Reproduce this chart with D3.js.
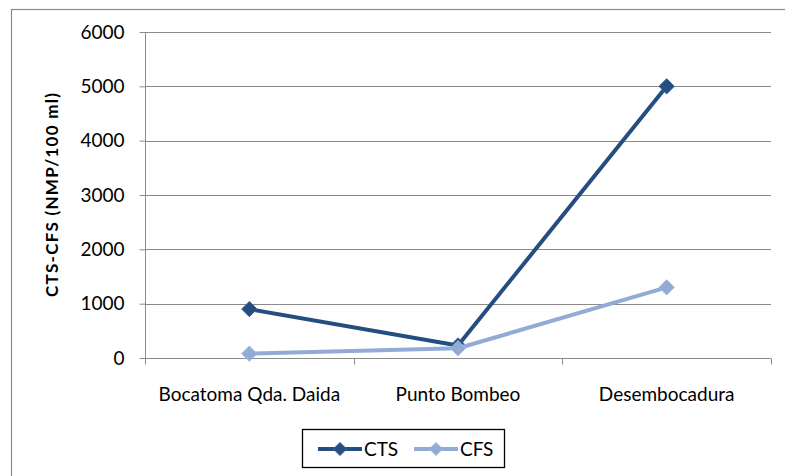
<!DOCTYPE html>
<html>
<head>
<meta charset="utf-8">
<script src="https://cdn.jsdelivr.net/npm/d3@7"></script>
<style>
  body { margin: 0; background: #fff; }
  svg { display: block; font-family: Lato, "Open Sans", sans-serif; }
</style>
</head>
<body>
<svg id="chart" width="785" height="476"></svg>
<script>
// data
const sites = ["Bocatoma Qda. Daida", "Punto Bombeo", "Desembocadura"];
const ctsValues = [900, 230, 5000];
const cfsValues = [80, 180, 1300];
const yTicks = [0, 1000, 2000, 3000, 4000, 5000, 6000];

const series = [
    {name: "CTS", values: ctsValues, color: "#254E80", edge: "#3A6296"},
    {name: "CFS", values: cfsValues, color: "#92ABD5", edge: "#A4BADE"}
];

const svg = d3.select("#chart");
const grid = "#8A8A8A";
const fs = 19;

// outer chart frame
svg.append("rect")
   .attr("x", 11.5).attr("y", 9.5)
   .attr("width", 800).attr("height", 500)
   .attr("fill", "none").attr("stroke", grid).attr("stroke-width", 1.2);

const plotL = 145, plotR = 771, plotT = 32, plotB = 358;

let x = d3.scaleBand().domain(sites).range([plotL, plotR]);
let y = d3.scaleLinear().domain([0, 6000]).range([plotB, plotT]);

// horizontal gridlines
svg.append("g")
   .selectAll("line")
   .data(yTicks)
   .join("line")
   .attr("x1", plotL).attr("x2", plotR)
   .attr("y1", d => Math.round(y(d)) + 0.5).attr("y2", d => Math.round(y(d)) + 0.5)
   .attr("stroke", grid).attr("stroke-width", 1);

// y axis
let yAxis = svg.append("g")
   .attr("transform", "translate(" + (plotL + 0.5) + ",0)")
   .call(d3.axisLeft(y).tickValues(yTicks).tickSize(6).tickPadding(15).tickFormat(d3.format("d")));
yAxis.select(".domain").attr("stroke", grid).attr("d", "M0," + plotT + "V" + plotB);
yAxis.selectAll(".tick line").attr("stroke", grid);
yAxis.selectAll(".tick text").attr("font-size", fs).attr("fill", "#000").attr("font-family", "Lato");

// x axis, ticks at band boundaries
let xAxis = svg.append("g")
   .attr("transform", "translate(0," + (plotB + 0.5) + ")");
xAxis.append("line")
   .attr("x1", plotL).attr("x2", plotR)
   .attr("stroke", grid);
xAxis.selectAll(".bound")
   .data(sites.map(s => x(s)).concat([plotR]))
   .join("line")
   .attr("class", "bound")
   .attr("x1", d => Math.round(d) + 0.5).attr("x2", d => Math.round(d) + 0.5)
   .attr("y1", 0).attr("y2", 6)
   .attr("stroke", grid);
xAxis.selectAll("text")
   .data(sites)
   .join("text")
   .attr("x", d => x(d) + x.bandwidth() / 2)
   .attr("y", 42.5)
   .attr("text-anchor", "middle")
   .attr("font-size", fs)
   .text(d => d);

// y axis title
svg.append("text")
   .attr("transform", "translate(57.5," + ((plotT + plotB) / 2) + ") rotate(-90)")
   .attr("text-anchor", "middle")
   .attr("font-size", 17)
   .attr("font-weight", "bold")
   .attr("textLength", 204)
   .attr("lengthAdjust", "spacing")
   .text("CTS-CFS (NMP/100 ml)");

const cx = d => x(d) + x.bandwidth() / 2;
const diamond = d3.symbol().type(d3.symbolDiamond2).size(150);

// CTS first, CFS on top like the reference
series.forEach(s => {
    let pts = sites.map((c, i) => [cx(c), y(s.values[i])]);
    svg.append("path")
       .datum(pts)
       .attr("d", d3.line())
       .attr("fill", "none")
       .attr("stroke", s.color)
       .attr("stroke-width", 4)
       .attr("stroke-linejoin", "round");
    svg.append("g")
       .selectAll("path")
       .data(pts)
       .join("path")
       .attr("transform", d => "translate(" + d[0] + "," + d[1] + ")")
       .attr("d", diamond)
       .attr("fill", s.color)
       .attr("stroke", s.edge)
       .attr("stroke-width", 1);
});

// legend
let legend = svg.append("g");
legend.append("rect")
   .attr("x", 302.5).attr("y", 429.5)
   .attr("width", 202).attr("height", 38)
   .attr("fill", "#fff").attr("stroke", "#000").attr("stroke-width", 1.3);
let items = legend.selectAll("g")
   .data(series)
   .join("g")
   .attr("transform", (d, i) => "translate(" + (318 + i * 96) + ",449)");
items.append("line")
   .attr("x1", 0).attr("x2", 44)
   .attr("stroke", d => d.color).attr("stroke-width", 4);
items.append("path")
   .attr("transform", "translate(22,0)")
   .attr("d", d3.symbol().type(d3.symbolDiamond2).size(110))
   .attr("fill", d => d.color)
   .attr("stroke", d => d.edge);
items.append("text")
   .attr("x", 46).attr("y", 7)
   .attr("font-size", fs)
   .text(d => d.name);
</script>
</body>
</html>
